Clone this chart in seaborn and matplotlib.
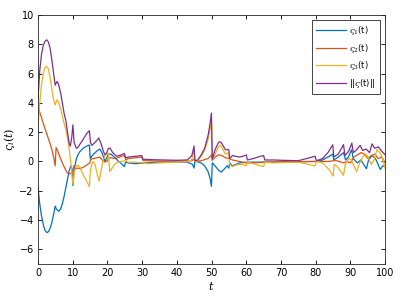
import matplotlib
matplotlib.use("Agg")
import matplotlib.pyplot as plt
import seaborn as sns
import pandas as pd

# ---- data ----
s1_t = [0, 0.5, 1, 1.5, 2, 2.5, 3, 3.5, 4, 4.5, 4.95, 5.3, 6, 6.5, 7, 7.5, 8, 8.5, 9, 9.5, 9.85, 10.05, 10.4, 11, 11.5, 12, 13, 14, 14.8, 15.05, 15.5, 16, 17, 17.8, 18.5, 19.3, 19.8, 20.3, 21, 22, 23, 24, 24.9, 25.2, 26, 28, 30, 32, 35, 40, 43, 44.5, 44.95, 45.2, 46, 47, 48, 49, 49.6, 49.95, 50.2, 51, 52, 52.8, 53.5, 54.5, 54.95, 55.2, 56, 57, 58, 60, 62, 65, 70, 75, 80, 82, 83.5, 84.9, 85.2, 86.5, 88, 88.6, 89.4, 90.3, 90.8, 92, 93, 94.6, 95.2, 96.2, 97.2, 98.6, 99.3, 100]
s1_v = [-1.8, -2.9, -3.7, -4.3, -4.7, -4.85, -4.8, -4.55, -4.15, -3.6, -3.05, -3.25, -3.4, -3.25, -2.9, -2.4, -1.8, -1.2, -0.6, -0.3, -0.6, -1.65, -0.6, 0.15, 0.45, 0.65, 0.9, 1.05, 1.12, 0.2, 0.35, 0.5, 0.72, 0.85, 0.55, 0.0, 0.25, 0.5, 0.5, 0.3, 0.05, -0.15, -0.35, -0.05, -0.1, -0.15, -0.12, -0.08, -0.05, -0.03, -0.05, -0.2, -0.45, 0.0, -0.02, -0.1, -0.3, -0.7, -1.2, -1.7, -0.1, -0.3, -0.6, -0.72, -0.55, -0.3, -0.45, -0.1, -0.3, -0.2, -0.1, -0.05, -0.05, -0.05, -0.03, -0.02, 0.0, 0.1, 0.3, 0.5, 0.1, 0.3, 0.6, 0.1, 0.3, 0.8, 0.2, -0.1, 0.1, -0.5, 0.1, 0.4, 0.2, -0.55, -0.3, -0.35]

s2_t = [0, 0.5, 1, 1.5, 2, 2.5, 3, 3.5, 4, 4.5, 4.95, 5.2, 5.6, 6, 6.5, 7, 7.5, 8, 8.5, 9, 9.5, 10, 10.3, 10.8, 11.5, 12, 13, 14, 14.9, 15.2, 16, 17, 17.8, 18.5, 19.3, 20, 20.3, 21, 22, 23, 24, 24.9, 25.3, 26, 28, 29.9, 30.3, 32, 35, 40, 44, 44.95, 45.2, 47, 49, 49.95, 50.2, 51, 52, 53, 54, 55, 56, 58, 60, 62, 65, 70, 80, 84, 85, 86, 88, 89, 90, 91, 93, 94, 95, 96, 97, 98, 99, 100]
s2_v = [3.7, 3.35, 3.0, 2.6, 2.25, 1.9, 1.55, 1.2, 0.8, 0.3, -0.3, 0.95, 0.75, 0.5, 0.2, -0.1, -0.35, -0.6, -0.8, -0.85, -0.8, -0.75, -0.3, -0.5, -0.45, -0.5, -0.4, -0.25, -0.1, 0.15, 0.2, 0.25, 0.3, 0.1, -0.05, 0.05, 0.2, 0.25, 0.2, 0.25, 0.35, 0.4, 0.1, 0.2, 0.25, 0.3, 0.05, 0.05, 0.02, 0.03, 0.02, 0.15, 0.0, 0.05, 0.2, 0.45, 0.05, 0.3, 0.45, 0.4, 0.25, 0.2, 0.1, 0.0, -0.1, -0.1, -0.05, -0.02, 0.0, 0.0, 0.05, 0.05, -0.1, 0.0, -0.1, 0.3, 0.6, 0.5, 0.2, 0.4, 0.5, 0.2, 0.3, -0.1]

s3_t = [0, 0.5, 1, 1.5, 2, 2.5, 3, 3.5, 4, 4.5, 4.95, 5.4, 5.8, 6.5, 7, 7.5, 8, 8.5, 9, 9.5, 10.05, 10.4, 11, 11.5, 12, 13, 14, 14.8, 15.1, 15.6, 16, 16.5, 17, 17.6, 18.2, 18.8, 19.3, 19.8, 20.2, 20.7, 21.5, 22, 23, 24, 25, 26, 28, 30, 32, 35, 40, 44, 44.5, 44.95, 45.2, 46, 47, 48, 49, 49.5, 49.95, 50.2, 51, 52, 52.5, 53, 54, 54.95, 55.2, 56, 57, 58, 59, 60, 60.3, 62, 64, 65, 65.3, 68, 70, 75, 79.8, 80.2, 82, 84, 85, 85.3, 86, 87, 88, 88.5, 89.5, 90.3, 91, 91.8, 92.5, 93.5, 94.5, 95.2, 96, 96.8, 97.6, 98.5, 99.3, 100]
s3_v = [2.4, 4.0, 5.2, 6.0, 6.4, 6.5, 6.3, 5.7, 4.9, 4.2, 3.85, 4.2, 4.1, 3.6, 3.1, 2.6, 2.2, 1.6, 0.8, -0.2, -1.55, -0.8, -0.3, -0.25, -0.4, -0.9, -1.35, -1.72, -0.6, -0.1, 0.0, -0.3, -0.8, -1.35, -0.6, 0.1, 0.4, 0.55, 0.55, -0.7, -0.4, -0.2, -0.05, 0.0, 0.05, -0.05, -0.05, -0.1, -0.15, -0.1, -0.05, 0.0, 0.3, 0.8, 0.0, 0.05, 0.35, 0.75, 1.5, 2.1, 2.7, 0.05, 0.5, 1.0, 1.1, 0.95, 0.5, 0.6, -0.2, -0.35, -0.25, -0.2, -0.2, -0.3, -0.05, -0.15, -0.3, -0.35, -0.05, -0.1, -0.08, -0.05, -0.3, 0.0, -0.1, -0.6, -1.0, -0.2, -0.3, -0.6, -0.95, -0.2, 0.2, 0.1, -0.3, -0.7, -0.2, 0.3, 0.5, 0.2, -0.2, 0.1, 0.8, 0.6, 0.2, -0.5]

nrm_t = [0, 0.5, 1, 1.5, 2, 2.5, 3, 3.5, 4, 4.5, 4.95, 5.4, 5.8, 6.5, 7, 7.5, 8, 8.5, 9, 9.3, 9.7, 10.05, 10.4, 11, 11.5, 12, 13, 14, 14.8, 15.1, 15.5, 16, 17, 17.5, 18.2, 18.8, 19.3, 19.8, 20.3, 20.8, 21.5, 22.7, 24, 24.9, 25.2, 26, 28, 29.9, 30.2, 33, 36, 40, 43, 44.3, 44.95, 45.2, 46, 47, 48, 49, 49.5, 49.95, 50.2, 51, 52, 52.4, 53, 54, 54.95, 55.2, 56, 57, 58, 59, 60, 60.3, 62, 64, 65, 65.3, 68, 70, 75, 79.8, 80.2, 82, 83.5, 84.9, 85.2, 86.5, 88, 88.4, 89.5, 90.4, 90.8, 91.8, 92.8, 93.5, 94.5, 95.5, 96.2, 97, 98, 99, 100]
nrm_v = [4.3, 6.2, 7.3, 7.9, 8.2, 8.3, 8.15, 7.7, 6.9, 6.0, 5.2, 5.45, 5.35, 4.7, 4.0, 3.3, 2.8, 2.0, 1.2, 1.05, 1.6, 2.5, 1.3, 0.9, 0.95, 1.15, 1.5, 1.9, 2.1, 1.3, 1.1, 1.2, 1.45, 1.6, 1.2, 0.7, 0.45, 0.6, 0.9, 0.9, 0.6, 0.35, 0.45, 0.55, 0.25, 0.3, 0.35, 0.4, 0.15, 0.12, 0.1, 0.08, 0.1, 0.4, 1.05, 0.05, 0.1, 0.45, 0.9, 1.8, 2.5, 3.3, 0.15, 0.8, 1.3, 1.35, 1.2, 0.8, 0.8, 0.2, 0.4, 0.35, 0.3, 0.35, 0.45, 0.1, 0.2, 0.35, 0.4, 0.1, 0.1, 0.08, 0.05, 0.35, 0.05, 0.2, 0.6, 1.13, 0.3, 0.5, 1.15, 0.4, 0.7, 1.25, 0.6, 0.8, 1.1, 0.75, 0.85, 0.6, 1.2, 0.9, 1.0, 0.7, 0.45]

labels = [r'$\varsigma_1$(t)', r'$\varsigma_2$(t)', r'$\varsigma_3$(t)', r'||$\varsigma$(t)||']
colors = ['#0072BD', '#D95319', '#EDB120', '#7E2F8E']
x_ticks = [0, 10, 20, 30, 40, 50, 60, 70, 80, 90, 100]
y_ticks = [-6, -4, -2, 0, 2, 4, 6, 8, 10]

frames = []
for lab, tt, vv in zip(labels, [s1_t, s2_t, s3_t, nrm_t], [s1_v, s2_v, s3_v, nrm_v]):
    frames.append(pd.DataFrame({'t': tt, 'v': vv, 'series': lab}))
df = pd.concat(frames, ignore_index=True)

plt.rcParams['font.family'] = ['DejaVu Sans']
plt.rcParams['mathtext.fontset'] = 'dejavuserif'

fig = plt.figure(figsize=(4.07, 2.98), dpi=100)
ax = fig.add_axes([0.0934, 0.114, 0.853, 0.836])
sns.lineplot(data=df, x='t', y='v', hue='series', palette=colors,
             hue_order=labels, estimator=None, sort=False, linewidth=0.9, ax=ax)

ax.set_xlim(0, 100)
ax.set_ylim(-7, 10)
ax.set_xticks(x_ticks)
ax.set_yticks(y_ticks)
ax.tick_params(direction='in', top=True, right=True, length=3, width=0.6,
               labelsize=7, pad=3)
for sp in ax.spines.values():
    sp.set_linewidth(0.6)
    sp.set_color('#262626')
ax.set_xlabel(r'$t$', fontsize=8, labelpad=1)
ax.set_ylabel(r'$\varsigma_i(t)$', fontsize=8, labelpad=2)

leg = ax.legend(loc='upper right', fontsize=6, frameon=True, fancybox=False,
                edgecolor='#262626', framealpha=1, handlelength=3.6,
                borderaxespad=0.6, labelspacing=0.55, handletextpad=0.4,
                borderpad=0.5)
leg.get_frame().set_linewidth(0.6)

fig.savefig('out.png', dpi=100)
